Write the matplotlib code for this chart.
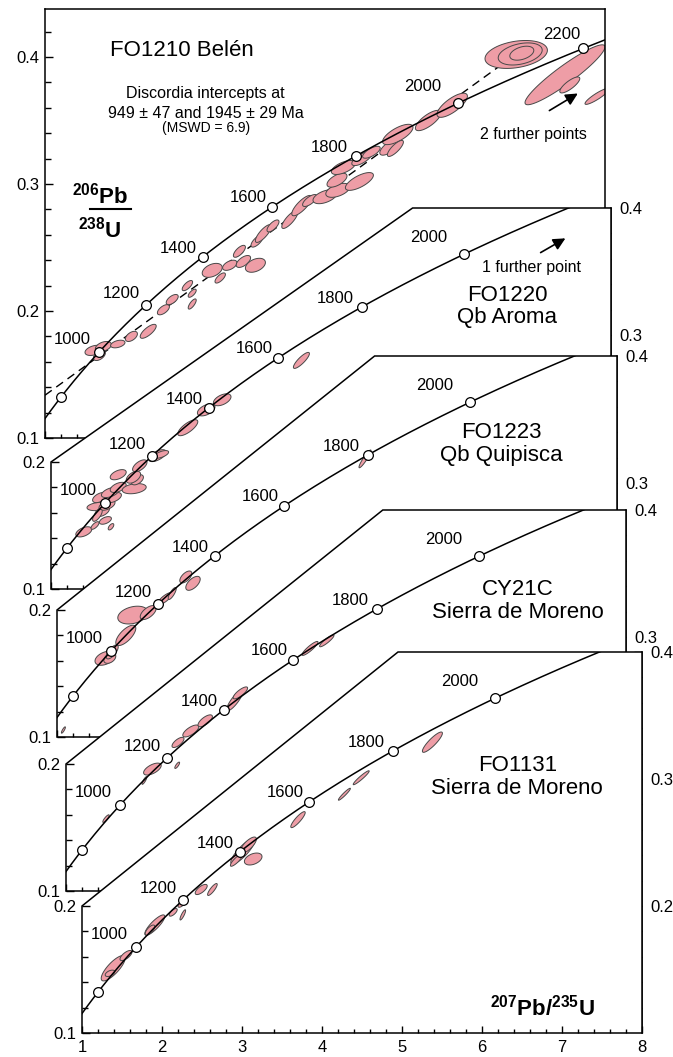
import numpy as np
import matplotlib
matplotlib.use('Agg')
import matplotlib.pyplot as plt
from matplotlib.patches import Polygon
from matplotlib.ticker import MultipleLocator, FixedLocator, FormatStrFormatter

plt.rcParams['font.family'] = ['Liberation Sans', 'DejaVu Sans']
plt.rcParams['mathtext.fontset'] = 'custom'
plt.rcParams['mathtext.rm'] = 'Liberation Sans'
plt.rcParams['mathtext.bf'] = 'Liberation Sans:bold'

# decay constants (1/Ma)
L238 = 1.55125e-4
L235 = 9.8485e-4

# concordia age marks (Ma)
ages = [800, 1000, 1200, 1400, 1600, 1800, 2000, 2200]
age_labels = ['', '1000', '1200', '1400', '1600', '1800', '2000', '2200']

# discordia intercepts for FO1210 (Ma)
lower_int = 949
upper_int = 1945

samples = ['FO1210 Belén', 'FO1220\nQb Aroma', 'FO1223\nQb Quipisca',
           'CY21C\nSierra de Moreno', 'FO1131\nSierra de Moreno']

# error ellipses: centre 207/235, centre 206/238, half-width, half-height, rho
fo1210 = [
    (1.61, 0.169, 0.11, 0.004, 0.4), (1.73, 0.172, 0.10, 0.004, 0.4),
    (1.68, 0.165, 0.075, 0.004, 0.5), (1.91, 0.174, 0.09, 0.003, 0.4),
    (2.08, 0.180, 0.075, 0.004, 0.5), (2.29, 0.184, 0.10, 0.0055, 0.75),
    (2.48, 0.201, 0.075, 0.004, 0.6), (2.59, 0.209, 0.075, 0.004, 0.6),
    (2.78, 0.220, 0.065, 0.004, 0.7), (2.84, 0.214, 0.05, 0.0032, 0.7),
    (2.84, 0.2055, 0.05, 0.004, 0.75), (3.09, 0.232, 0.125, 0.0055, 0.4),
    (3.19, 0.226, 0.065, 0.004, 0.7), (3.31, 0.236, 0.09, 0.004, 0.5),
    (3.43, 0.247, 0.075, 0.0047, 0.7), (3.48, 0.239, 0.09, 0.0047, 0.6),
    (3.63, 0.236, 0.125, 0.0055, 0.4), (3.65, 0.255, 0.075, 0.0047, 0.7),
    (3.73, 0.261, 0.10, 0.007, 0.8), (3.85, 0.267, 0.075, 0.0047, 0.7),
    (4.06, 0.272, 0.10, 0.007, 0.8), (4.21, 0.283, 0.125, 0.008, 0.8),
    (4.31, 0.287, 0.09, 0.0047, 0.7), (4.50, 0.290, 0.15, 0.0055, 0.5),
    (4.66, 0.295, 0.15, 0.0055, 0.5), (4.65, 0.303, 0.125, 0.0055, 0.6),
    (4.73, 0.313, 0.15, 0.0055, 0.6), (4.93, 0.302, 0.175, 0.007, 0.7),
    (4.96, 0.320, 0.125, 0.0055, 0.7), (5.08, 0.325, 0.11, 0.0047, 0.7),
    (5.31, 0.329, 0.125, 0.0063, 0.7), (5.41, 0.339, 0.19, 0.008, 0.7),
    (5.38, 0.328, 0.10, 0.0063, 0.8), (5.79, 0.350, 0.16, 0.008, 0.75),
    (6.09, 0.362, 0.19, 0.0095, 0.75), (6.89, 0.402, 0.39, 0.011, 0.3),
    (6.94, 0.4024, 0.275, 0.0087, 0.35), (6.96, 0.403, 0.15, 0.0055, 0.4),
    (7.50, 0.386, 0.50, 0.0236, 0.93), (7.56, 0.378, 0.125, 0.0063, 0.8),
    (7.90, 0.369, 0.15, 0.0063, 0.9),
]
fo1220 = [
    (1.41, 0.145, 0.10, 0.004, 0.5), (1.55, 0.150, 0.05, 0.003, 0.7),
    (1.75, 0.149, 0.035, 0.0025, 0.6), (1.59, 0.165, 0.14, 0.0033, 0.3),
    (1.64, 0.161, 0.09, 0.004, 0.5), (1.70, 0.166, 0.10, 0.004, 0.5),
    (1.78, 0.172, 0.10, 0.004, 0.5), (1.68, 0.154, 0.075, 0.003, 0.5),
    (1.58, 0.158, 0.06, 0.0047, 0.7), (1.61, 0.172, 0.09, 0.004, 0.5),
    (1.74, 0.176, 0.11, 0.004, 0.5), (1.84, 0.180, 0.10, 0.004, 0.5),
    (2.04, 0.179, 0.15, 0.004, 0.3), (2.08, 0.186, 0.075, 0.004, 0.5),
    (2.03, 0.188, 0.09, 0.0047, 0.5), (1.84, 0.190, 0.10, 0.004, 0.5),
    (2.11, 0.197, 0.09, 0.0047, 0.6), (2.33, 0.205, 0.11, 0.0047, 0.6),
    (2.38, 0.206, 0.09, 0.003, 0.6), (2.71, 0.227, 0.125, 0.0063, 0.75),
    (2.94, 0.241, 0.11, 0.0047, 0.5), (3.14, 0.249, 0.11, 0.0047, 0.5),
    (4.13, 0.280, 0.10, 0.0063, 0.85),
]
fo1223 = [
    (1.08, 0.1055, 0.025, 0.0025, 0.85), (1.60, 0.162, 0.125, 0.0055, 0.4),
    (1.66, 0.162, 0.075, 0.004, 0.4), (1.69, 0.167, 0.075, 0.0055, 0.7),
    (1.86, 0.180, 0.125, 0.008, 0.7), (1.95, 0.196, 0.19, 0.007, 0.3),
    (2.14, 0.198, 0.10, 0.0055, 0.6), (2.35, 0.209, 0.09, 0.0047, 0.8),
    (2.44, 0.213, 0.05, 0.0047, 0.8), (2.61, 0.226, 0.075, 0.0047, 0.6),
    (2.70, 0.221, 0.09, 0.0055, 0.6), (4.85, 0.319, 0.075, 0.007, 0.93),
]
cy21c = [
    (1.50, 0.157, 0.04, 0.003, 0.85), (1.98, 0.187, 0.03, 0.003, 0.85),
    (2.08, 0.196, 0.11, 0.0047, 0.6), (2.39, 0.199, 0.03, 0.0025, 0.8),
    (2.40, 0.217, 0.075, 0.004, 0.7), (2.56, 0.226, 0.10, 0.0047, 0.7),
    (2.74, 0.234, 0.09, 0.0047, 0.7), (3.11, 0.250, 0.10, 0.008, 0.85),
    (3.18, 0.256, 0.09, 0.0047, 0.8), (4.05, 0.291, 0.10, 0.0055, 0.9),
    (4.26, 0.297, 0.09, 0.0047, 0.9),
]
fo1131 = [
    (1.39, 0.151, 0.15, 0.010, 0.8), (1.35, 0.147, 0.06, 0.0025, 0.5),
    (1.55, 0.161, 0.075, 0.004, 0.7), (1.91, 0.185, 0.125, 0.008, 0.85),
    (1.85, 0.181, 0.06, 0.004, 0.7), (2.14, 0.195, 0.05, 0.003, 0.7),
    (2.26, 0.193, 0.035, 0.004, 0.85), (2.25, 0.202, 0.05, 0.003, 0.7),
    (2.49, 0.213, 0.075, 0.004, 0.7), (2.63, 0.213, 0.06, 0.0047, 0.85),
    (3.01, 0.243, 0.15, 0.010, 0.85), (3.08, 0.248, 0.10, 0.0063, 0.75),
    (2.93, 0.236, 0.075, 0.0047, 0.85), (3.14, 0.237, 0.11, 0.0047, 0.4),
    (3.70, 0.268, 0.09, 0.0063, 0.88), (4.28, 0.288, 0.075, 0.0047, 0.95),
    (4.49, 0.301, 0.10, 0.0055, 0.95), (5.38, 0.329, 0.125, 0.008, 0.88),
]
ellipses = [fo1210, fo1220, fo1223, cy21c, fo1131]

# layout of the stacked panels (pixels in the 673x1057 figure)
W, H = 673, 1057
left_px = [45, 51, 57, 66, 82]
base_px = [438, 589, 737, 891, 1033]
px_x = 80.0      # pixels per unit 207Pb/235U
px_y = 1270.0    # pixels per unit 206Pb/238U
ytop = [0.438, 0.4, 0.4, 0.4, 0.4]
corner_x = [None, 5.52, 4.97, 4.96, 4.95]
name_pos = [(1.81, 0.4055), (6.70, 0.3224), (6.56, 0.3307), (6.65, 0.3283), (6.44, 0.3016)]
right_major = [None, [0.3, 0.4], [0.3, 0.4], [0.3, 0.4], [0.2, 0.3, 0.4]]

# label offsets (points) relative to the age circles
lab_off = {1000: (-5.8, 8.6), 1200: (-4.3, 8.6), 1400: (-4.3, 5.8), 1600: (-3.6, 7.2),
           1800: (-5.8, 6.0), 2000: (-12.2, 12.2), 2200: (-2.2, 10.0)}

pink = '#EE9DA6'
edge = '#484848'
TS = 12


def ellipse_xy(cx, cy, sx, sy, rho, n=80):
    t = np.linspace(0, 2 * np.pi, n)
    x = cx + sx * np.cos(t)
    y = cy + sy * (rho * np.cos(t) + np.sqrt(1 - rho ** 2) * np.sin(t))
    return np.column_stack([x, y])


fig = plt.figure(figsize=(W / 100, H / 100), dpi=100)

t_curve = np.linspace(600, 2400, 500)
cx_curve = np.exp(L235 * t_curve) - 1
cy_curve = np.exp(L238 * t_curve) - 1
age_x = np.exp(L235 * np.array(ages)) - 1
age_y = np.exp(L238 * np.array(ages)) - 1

for i in range(5):
    hpx = (ytop[i] - 0.1) * px_y
    ax = fig.add_axes([left_px[i] / W, (H - base_px[i]) / H, 7 * px_x / W, hpx / H])
    ax.set_xlim(1, 8)
    ax.set_ylim(0.1, ytop[i])
    ax.patch.set_visible(False)

    frame = None
    if i > 0:
        verts = [(1, 0.1), (8, 0.1), (8, 0.4), (corner_x[i], 0.4), (1, 0.2)]
        frame = Polygon(verts, closed=True, facecolor='white', edgecolor='black',
                        lw=1.1, zorder=0.5, clip_on=False)
        ax.add_patch(frame)
        for s in ax.spines.values():
            s.set_visible(False)
    else:
        for s in ax.spines.values():
            s.set_linewidth(1.1)

    # ticks
    ax.xaxis.set_major_locator(MultipleLocator(1))
    ax.xaxis.set_minor_locator(MultipleLocator(0.2))
    if i == 0:
        ax.yaxis.set_major_locator(FixedLocator([0.1, 0.2, 0.3, 0.4]))
        ax.yaxis.set_minor_locator(MultipleLocator(0.02))
    else:
        ax.yaxis.set_major_locator(FixedLocator([0.1, 0.2]))
        ax.yaxis.set_minor_locator(FixedLocator([0.12, 0.14, 0.16, 0.18]))
    ax.yaxis.set_major_formatter(FormatStrFormatter('%.1f'))
    ax.tick_params(which='both', direction='in', labelsize=TS, width=1.0,
                   right=False, top=False, labelbottom=(i == 4))
    ax.tick_params(axis='y', which='major', length=6, pad=4)
    ax.tick_params(axis='y', which='minor', length=4.5)
    ax.tick_params(axis='x', which='major', length=5, pad=5)
    ax.tick_params(axis='x', which='minor', length=3)

    if i > 0:
        sec = ax.secondary_yaxis('right')
        sec.yaxis.set_major_locator(FixedLocator(right_major[i]))
        minors = [round(0.12 + 0.02 * k, 2) for k in range(14)]
        minors = [m for m in minors if m not in right_major[i]]
        sec.yaxis.set_minor_locator(FixedLocator(minors))
        sec.yaxis.set_major_formatter(FormatStrFormatter('%.1f'))
        sec.tick_params(which='both', direction='in', labelsize=TS, width=1.0, pad=6)
        sec.tick_params(which='major', length=6)
        sec.tick_params(which='minor', length=4.5)
        sec.spines['right'].set_linewidth(1.1)

    # discordia for FO1210
    if i == 0:
        x1 = np.exp(L235 * lower_int) - 1
        y1 = np.exp(L238 * lower_int) - 1
        x2 = np.exp(L235 * upper_int) - 1
        y2 = np.exp(L238 * upper_int) - 1
        slope = (y2 - y1) / (x2 - x1)
        dx = np.array([1.0, 6.7])
        ax.plot(dx, y1 + slope * (dx - x1), color='black', lw=1.0,
                dashes=(6, 4), zorder=1.5)

    # error ellipses
    for (ex, ey, sx, sy, rho) in ellipses[i]:
        p = Polygon(ellipse_xy(ex, ey, sx, sy, rho), closed=True, facecolor=pink,
                    edgecolor=edge, lw=0.7, zorder=2)
        ax.add_patch(p)
        if frame is not None:
            p.set_clip_path(frame)

    # concordia
    ln, = ax.plot(cx_curve, cy_curve, color='black', lw=1.1, zorder=3)
    if frame is not None:
        ln.set_clip_path(frame)
    keep = age_y <= ytop[i]
    mk, = ax.plot(age_x[keep], age_y[keep], 'o', ms=7, mfc='white', mec='black',
                  mew=0.9, zorder=4)
    if frame is not None:
        mk.set_clip_path(frame)
    for a, lab, xa, ya in zip(ages, age_labels, age_x, age_y):
        if lab and ya <= ytop[i]:
            ax.annotate(lab, (xa, ya), xytext=lab_off[a], textcoords='offset points',
                        ha='right', va='center', fontsize=12, zorder=5)

    # sample name
    if i == 0:
        ax.text(name_pos[i][0], name_pos[i][1], samples[i], fontsize=16,
                ha='left', va='center')
    else:
        ax.text(name_pos[i][0], name_pos[i][1], samples[i], fontsize=16,
                ha='center', va='center', linespacing=1.1)

    if i == 0:
        ax.text(3.01, 0.3709, 'Discordia intercepts at', fontsize=11.5,
                ha='center', va='center')
        ax.text(3.01, 0.3559, '949 ± 47 and 1945 ± 29 Ma', fontsize=11.5,
                ha='center', va='center')
        ax.text(3.01, 0.3441, '(MSWD = 6.9)', fontsize=10, ha='center', va='center')
        ax.text(7.10, 0.3386, '2 further points', fontsize=11.5, ha='center', va='center')
        ax.annotate('', xy=(7.69, 0.3724), xytext=(7.275, 0.3567),
                    arrowprops=dict(arrowstyle='-|>', color='black', lw=1.2,
                                    mutation_scale=18))
        # y axis label
        ax.text(1.69, 0.2906, r'$^{\mathbf{206}}\mathbf{Pb}$', fontsize=16,
                ha='center', va='center')
        ax.plot([1.56, 2.07], [0.2803, 0.2803], color='black', lw=1.5, clip_on=False)
        ax.text(1.69, 0.2638, r'$^{\mathbf{238}}\mathbf{U}$', fontsize=16,
                ha='center', va='center')
    if i == 1:
        ax.text(7.01, 0.3535, '1 further point', fontsize=11.5, ha='center', va='center')
        ax.annotate('', xy=(7.46, 0.3772), xytext=(7.09, 0.3638),
                    arrowprops=dict(arrowstyle='-|>', color='black', lw=1.2,
                                    mutation_scale=18))
    if i == 4:
        ax.text(6.76, 0.1197, r'$^{\mathbf{207}}\mathbf{Pb/}^{\mathbf{235}}\mathbf{U}$',
                fontsize=16, ha='center', va='center')

fig.savefig('out.png', dpi=100)
